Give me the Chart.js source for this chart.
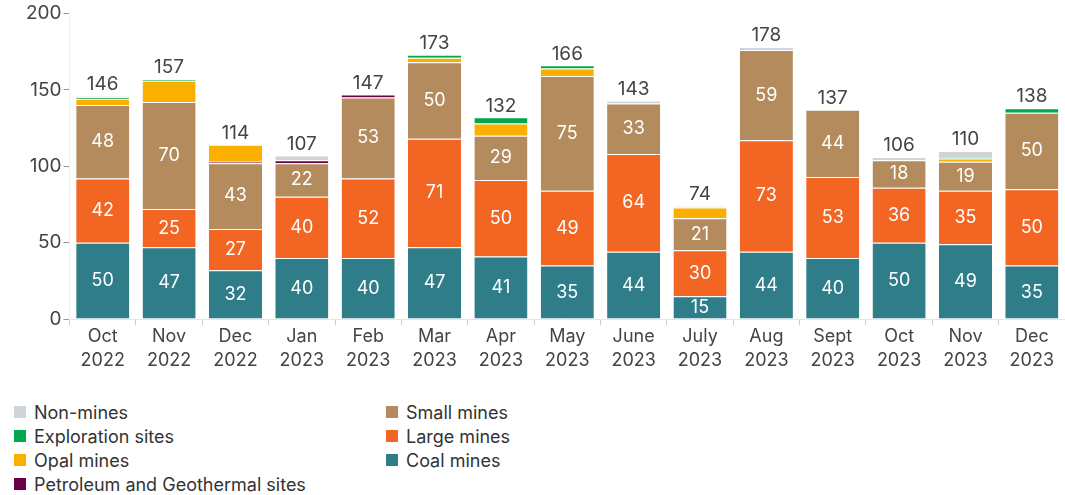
<!DOCTYPE html>
<html>
<head>
<meta charset="utf-8">
<script src="https://cdn.jsdelivr.net/npm/chart.js@4"></script>
<style>
  body { margin: 0; background: #fff; font-family: Inter, "Noto Sans", sans-serif; }
  #wrap { position: relative; width: 1065px; height: 373px; }
  #legend { position: absolute; top: 400px; left: 14px; width: 1000px; font-size: 18px; color: #333; }
  .item { position: absolute; display: flex; align-items: center; height: 24px; white-space: nowrap; }
  .sw { width: 12px; height: 12px; margin-right: 8px; }
</style>
</head>
<body>
<div id="wrap"><canvas id="chart"></canvas></div>
<div id="legend"></div>
<script>
  // Monthly figures
  const months = [
    ['Oct', '2022'], ['Nov', '2022'], ['Dec', '2022'], ['Jan', '2023'], ['Feb', '2023'],
    ['Mar', '2023'], ['Apr', '2023'], ['May', '2023'], ['June', '2023'], ['July', '2023'],
    ['Aug', '2023'], ['Sept', '2023'], ['Oct', '2023'], ['Nov', '2023'], ['Dec', '2023']
  ];
  const coalMines   = [50, 47, 32, 40, 40, 47, 41, 35, 44, 15, 44, 40, 50, 49, 35];
  const largeMines  = [42, 25, 27, 40, 52, 71, 50, 49, 64, 30, 73, 53, 36, 35, 50];
  const smallMines  = [48, 70, 43, 22, 53, 50, 29, 75, 33, 21, 59, 44, 18, 19, 50];
  const petroleum   = [0, 0, 1, 2, 2, 0, 0, 0, 0, 0, 0, 0, 0, 0, 0];
  const opalMines   = [4, 14, 11, 0, 0, 3, 8, 5, 0, 7, 0, 0, 0, 2, 0];
  const exploration = [1, 1, 0, 0, 0, 2, 4, 2, 0, 0, 0, 0, 0, 1, 3];
  const nonMines    = [1, 0, 0, 3, 0, 0, 0, 0, 2, 1, 2, 0, 2, 4, 0];
  const yTicks = [0, 50, 100, 150, 200];

  const series = [
    { label: 'Coal mines', data: coalMines, color: '#2e7d89', showValue: true },
    { label: 'Large mines', data: largeMines, color: '#f26522', showValue: true },
    { label: 'Small mines', data: smallMines, color: '#b38b5d', showValue: true },
    { label: 'Petroleum and Geothermal sites', data: petroleum, color: '#6a0048' },
    { label: 'Opal mines', data: opalMines, color: '#fbb000' },
    { label: 'Exploration sites', data: exploration, color: '#00a74e' },
    { label: 'Non-mines', data: nonMines, color: '#cfd4d9' }
  ];

  const totals = months.map((m, i) => series.reduce((s, d) => s + d.data[i], 0));

  // writes segment values and the totals on the bars
  const barLabels = {
    id: 'barLabels',
    afterDatasetsDraw(chart) {
      const ctx = chart.ctx;
      ctx.save();
      ctx.textAlign = 'center';
      ctx.textBaseline = 'middle';
      ctx.font = '18px Inter, "Noto Sans", sans-serif';
      ctx.fillStyle = '#fff';
      series.forEach((s, di) => {
        if (!s.showValue) return;
        chart.getDatasetMeta(di).data.forEach((bar, i) => {
          const p = bar.getProps(['x', 'y', 'base'], true);
          ctx.fillText(s.data[i], p.x, (p.y + p.base) / 2);
        });
      });
      ctx.font = '19px Inter, "Noto Sans", sans-serif';
      ctx.fillStyle = '#444';
      ctx.textBaseline = 'bottom';
      const yScale = chart.scales.y;
      chart.getDatasetMeta(0).data.forEach((bar, i) => {
        ctx.fillText(totals[i], bar.x, yScale.getPixelForValue(totals[i]) - 2);
      });
      ctx.restore();
    }
  };

  new Chart(document.getElementById('chart'), {
    type: 'bar',
    data: {
      labels: months,
      datasets: series.map(s => ({
        label: s.label,
        data: s.data,
        backgroundColor: s.color,
        borderColor: '#fff',
        borderWidth: { top: 1, bottom: 0, left: 0, right: 0 },
        borderSkipped: false,
        barPercentage: 0.8,
        categoryPercentage: 1
      }))
    },
    options: {
      responsive: true,
      maintainAspectRatio: false,
      animation: false,
      layout: { padding: { top: 12, right: 0, left: 24, bottom: 0 } },
      plugins: {
        legend: { display: false },
        tooltip: { enabled: false }
      },
      scales: {
        x: {
          stacked: true,
          grid: { display: true, drawOnChartArea: false, tickLength: 6, color: '#ccc' },
          border: { color: '#e6e6e6' },
          ticks: { color: '#444', font: { size: 18, family: 'Inter', lineHeight: 1.33 }, maxRotation: 0, autoSkip: false, padding: 0 }
        },
        y: {
          stacked: true,
          min: 0,
          max: 200,
          afterBuildTicks: axis => { axis.ticks = yTicks.map(v => ({ value: v })); },
          grid: { display: true, drawOnChartArea: false, tickLength: 6, color: '#999' },
          border: { color: '#eee' },
          ticks: { color: '#444', font: { size: 19, family: 'Inter' }, padding: 2 }
        }
      }
    },
    plugins: [barLabels]
  });

  // legend in two columns, as in the reference
  const legendOrder = [
    ['Non-mines', 0, 0], ['Exploration sites', 0, 1], ['Opal mines', 0, 2],
    ['Petroleum and Geothermal sites', 0, 3],
    ['Small mines', 1, 0], ['Large mines', 1, 1], ['Coal mines', 1, 2]
  ];
  const legend = document.getElementById('legend');
  legendOrder.forEach(([name, col, row]) => {
    const s = series.find(d => d.label === name);
    const el = document.createElement('div');
    el.className = 'item';
    el.style.left = (col * 372) + 'px';
    el.style.top = (row * 24) + 'px';
    el.innerHTML = '<span class="sw" style="background:' + s.color + '"></span>' + name;
    legend.appendChild(el);
  });
</script>
</body>
</html>
